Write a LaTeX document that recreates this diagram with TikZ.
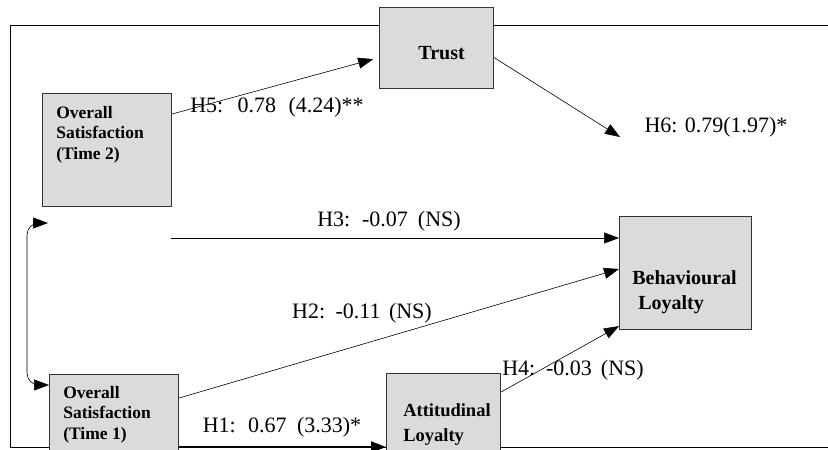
\documentclass[tikz,border=0pt]{standalone}
\usepackage{fontspec}
\setmainfont{Liberation Serif}
\usetikzlibrary{arrows.meta}

\begin{document}
\begin{tikzpicture}[x=1pt,y=-1pt,->,>={Triangle[length=15pt,width=11pt]},semithick,
    box/.style={draw=black!80,fill=black!14,line width=1.1pt,anchor=north west,inner sep=0pt},
    bigbox/.style={box,minimum width=129pt,minimum height=113pt},
    smallbox/.style={box,minimum width=114pt,minimum height=81pt},
    boxtext/.style={font=\fontsize{17.5}{20.5}\selectfont\bfseries,align=left,inner sep=0pt},
    hyp/.style={font=\fontsize{22}{24}\selectfont,inner sep=0pt}]
  \clip (0,0) rectangle (828,450);
  % outer frame
  \draw[-] (10,25) rectangle (900,447);

  \node [bigbox]                          (os2)   at (42,93)   {};
  \node [bigbox]                          (os1)   at (49,374)  {};
  \node [smallbox]                        (trust) at (379,7)   {};
  \node [smallbox]                        (att)   at (386,373) {};
  \node [box,minimum width=132pt,minimum height=113pt] (bl) at (619,216) {};

  \node [boxtext,anchor=north west] (os2txt) at ([xshift=14pt,yshift=-13pt]os2.north west) {Overall\\Satisfaction\\(Time 2)};
  \node [boxtext,anchor=north west] (os1txt) at ([xshift=14pt,yshift=-12pt]os1.north west) {Overall\\Satisfaction\\(Time 1)};
  \node [boxtext,font=\fontsize{20}{25}\selectfont\bfseries] (trusttxt) at ([xshift=5pt,yshift=-5.5pt]trust.center) {Trust};
  \node [boxtext,font=\fontsize{18.5}{25}\selectfont\bfseries,anchor=north west] (atttxt) at ([xshift=17pt,yshift=-30pt]att.north west) {Attitudinal\\Loyalty};
  \node [boxtext,font=\fontsize{20}{25}\selectfont\bfseries] (bltxt) at ([xshift=-1pt,yshift=-19.5pt]bl.center) {Behavioural\\\hspace{6pt}Loyalty};

  \coordinate (covtop) at (48,223);
  \coordinate (h3start) at (171,238);
  \coordinate (h6end) at (620,137);

  % paths
  \draw [shorten >=6pt] ([yshift=-21pt]os2.north east) -- ([yshift=-9.5pt]trust.west);
  \draw ([yshift=-9.5pt]trust.east) -- (h6end);
  \draw (h3start) -- ([yshift=-22pt]bl.north west);
  \draw ([yshift=-24pt]os1.north east) -- ([yshift=-53pt]bl.north west);
  \draw ([yshift=-19pt]att.north east) -- ([yshift=4pt]bl.south west);
  \draw [line width=2.2pt] ([yshift=-73pt]os1.north east) -- ([yshift=-74pt]att.north west);
  \draw [<->,rounded corners=12pt] (covtop) -- ++(-21,0) |- ([yshift=-11pt]os1.north west);

  \node [hyp] (h5) at (277,107) {H5:\hspace{7pt} 0.78\hspace{7pt} (4.24)**};
  \node [hyp] (h6) at (716,127) {H6:  0.79(1.97)*};
  \node [hyp] (h3) at (389,221) {H3:\hspace{4.5pt} -0.07\hspace{4.5pt} (NS)};
  \node [hyp] (h2) at (362,313) {H2:\hspace{3pt} -0.11\hspace{3pt} (NS)};
  \node [hyp] (h1) at (282,427) {H1:\hspace{5pt} 0.67\hspace{5pt} (3.33)*};
  \node [hyp] (h4) at (573,370) {H4:\hspace{3.5pt} -0.03\hspace{3.5pt} (NS)};
\end{tikzpicture}
\end{document}
